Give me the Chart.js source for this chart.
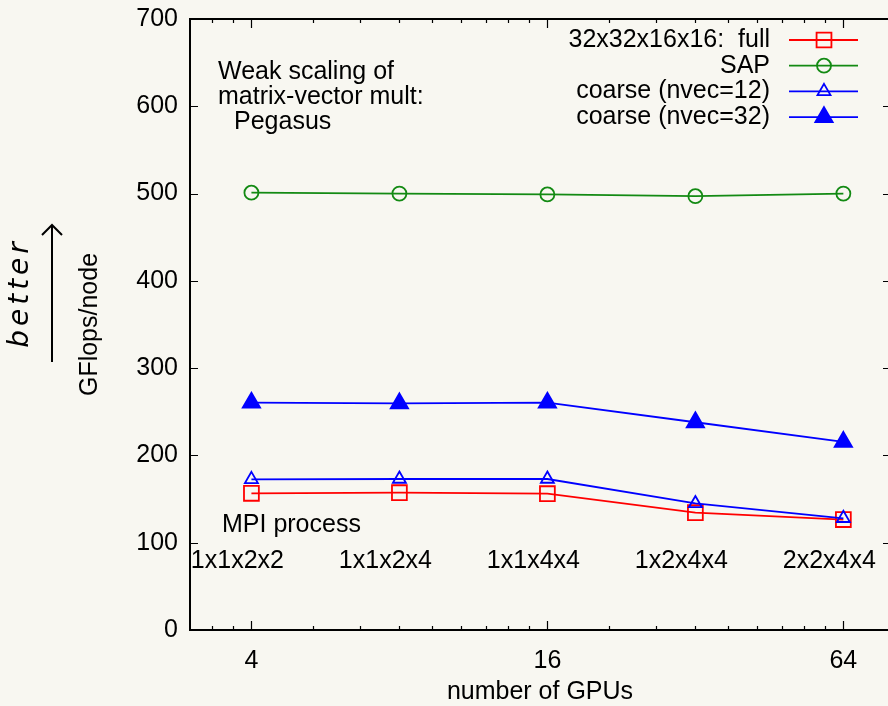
<!DOCTYPE html>
<html>
<head>
<meta charset="utf-8">
<title>Weak scaling of matrix-vector mult: Pegasus</title>
<script src="https://cdn.jsdelivr.net/npm/chart.js@4/dist/chart.umd.min.js"></script>
<style>
  html, body { margin: 0; padding: 0; background: #f8f7f1; overflow: hidden; }
  #wrap { position: relative; width: 906px; height: 706px; }
</style>
</head>
<body>
<div id="wrap"><canvas id="c" width="906" height="706"></canvas></div>
<script>
// Number of GPUs per run and the MPI process grid used for each
const gpus = [4, 8, 16, 32, 64];
const processGrids = ['1x1x2x2', '1x1x2x4', '1x1x4x4', '1x2x4x4', '2x2x4x4'];

// GFlops per node for each operator
const fullGflops     = [156.6, 157.3, 156.2, 134.4, 126.5];
const sapGflops      = [501, 500, 499, 497, 500];
const coarse12Gflops = [172.6, 173, 173, 145, 128];
const coarse32Gflops = [260.4, 259.6, 260.4, 238, 215.5];

// Axis ticks
const xMajorTicks = [4, 16, 64];
const xMinorTicks = [10/3, 11/3, 16/3, 20/3, 8, 28/3, 32/3, 12, 40/3, 44/3,
                     64/3, 80/3, 32, 112/3, 128/3, 48, 160/3, 176/3];
const yTicks = [0, 100, 200, 300, 400, 500, 600, 700];

// Plot frame edges (the right edge runs just past the visible page)
const FRAME = { left: 190, top: 19, right: 891, bottom: 630 };

const FONT = "'Liberation Sans', Arial, Helvetica, sans-serif";
const RED = '#ff0000', GREEN = '#138a13', BLUE = '#0000ff';

const series = [
  { label: '32x32x16x16:  full', data: fullGflops, color: RED, style: 'rect', radius: 10.5, fill: false },
  { label: 'SAP', data: sapGflops, color: GREEN, style: 'circle', radius: 7, fill: false },
  { label: 'coarse (nvec=12)', data: coarse12Gflops, color: BLUE, style: 'triangle', radius: 7.5, fill: false },
  { label: 'coarse (nvec=32)', data: coarse32Gflops, color: BLUE, style: 'triangle', radius: 10, fill: true }
];

function marker(ctx, style, x, y, r, color, fill) {
  ctx.save();
  ctx.strokeStyle = color;
  ctx.fillStyle = color;
  ctx.lineWidth = 1.8;
  ctx.beginPath();
  if (style === 'rect') {
    const s = Math.SQRT1_2 * r;
    ctx.rect(x - s, y - s, 2 * s, 2 * s);
  } else if (style === 'circle') {
    ctx.arc(x, y, r, 0, Math.PI * 2);
  } else {
    const w = r * Math.sin(Math.PI * 2 / 3);
    ctx.moveTo(x, y - r);
    ctx.lineTo(x + w, y + r / 2);
    ctx.lineTo(x - w, y + r / 2);
    ctx.closePath();
  }
  if (fill) ctx.fill();
  ctx.stroke();
  ctx.restore();
}

const decorations = {
  id: 'decorations',
  beforeDraw(chart) {
    const ctx = chart.ctx;
    ctx.save();
    ctx.fillStyle = '#f8f7f1';
    ctx.fillRect(0, 0, chart.width, chart.height);
    ctx.restore();
  },
  beforeDatasetsDraw(chart) {
    const { ctx, chartArea: a, scales: { x, y } } = chart;
    ctx.save();
    ctx.strokeStyle = '#000';
    // inward ticks on all four sides
    ctx.lineWidth = 1.2;
    ctx.beginPath();
    yTicks.forEach(v => {
      const py = Math.round(y.getPixelForValue(v)) + 0.5;
      ctx.moveTo(a.left, py); ctx.lineTo(a.left + 8, py);
      ctx.moveTo(a.right, py); ctx.lineTo(a.right - 8, py);
    });
    xMajorTicks.forEach(v => {
      const px = Math.round(x.getPixelForValue(v)) + 0.5;
      ctx.moveTo(px, a.bottom); ctx.lineTo(px, a.bottom - 9);
      ctx.moveTo(px, a.top); ctx.lineTo(px, a.top + 9);
    });
    xMinorTicks.forEach(v => {
      const px = Math.round(x.getPixelForValue(v)) + 0.5;
      ctx.moveTo(px, a.bottom); ctx.lineTo(px, a.bottom - 4);
      ctx.moveTo(px, a.top); ctx.lineTo(px, a.top + 4);
    });
    ctx.stroke();
    // frame
    ctx.lineWidth = 2;
    ctx.strokeRect(a.left, a.top, a.right - a.left, a.bottom - a.top);
    ctx.restore();
  },
  afterDraw(chart) {
    const { ctx, chartArea: a, scales: { x, y } } = chart;
    ctx.save();
    ctx.fillStyle = '#000';
    ctx.font = '25px ' + FONT;
    ctx.textBaseline = 'middle';

    // description text
    ctx.textAlign = 'left';
    ctx.fillText('Weak scaling of', a.left + 28, 72);
    ctx.fillText('matrix-vector mult:', a.left + 28, 97);
    ctx.fillText('Pegasus', a.left + 44, 122);

    // MPI process grid under each point
    ctx.fillText('MPI process', a.left + 32, 525);
    ctx.textAlign = 'center';
    processGrids.forEach((g, i) => {
      ctx.fillText(g, x.getPixelForValue(gpus[i]) - 14, 561);
    });

    // legend
    series.forEach((s, i) => {
      const ry = 40 + i * 25.7;
      ctx.textAlign = 'right';
      ctx.fillStyle = '#000';
      ctx.fillText(s.label, 770, ry);
      ctx.strokeStyle = s.color;
      ctx.lineWidth = 1.8;
      ctx.beginPath();
      ctx.moveTo(789, ry); ctx.lineTo(858, ry);
      ctx.stroke();
      marker(ctx, s.style, 824, ry, s.radius, s.color, s.fill);
    });

    // axis titles
    ctx.fillStyle = '#000';
    ctx.textAlign = 'center';
    ctx.fillText('number of GPUs', 540, 692);
    ctx.save();
    ctx.translate(90, (a.top + a.bottom) / 2);
    ctx.rotate(-Math.PI / 2);
    ctx.font = '25px ' + FONT;
    ctx.fillText('GFlops/node', 0, 0);
    ctx.restore();

    // "better" with an upward arrow
    ctx.save();
    ctx.translate(21, 293);
    ctx.rotate(-Math.PI / 2);
    ctx.font = "oblique 28px 'DejaVu Sans', sans-serif";
    if ('letterSpacing' in ctx) ctx.letterSpacing = '4px';
    ctx.fillText('better', 0, 0);
    ctx.restore();
    ctx.strokeStyle = '#000';
    ctx.lineWidth = 2;
    ctx.beginPath();
    ctx.moveTo(52, 362); ctx.lineTo(52, 225);
    ctx.moveTo(42, 235); ctx.lineTo(52, 225); ctx.lineTo(62, 235);
    ctx.stroke();
    ctx.restore();
  }
};

const chart = new Chart(document.getElementById('c'), {
  type: 'line',
  data: {
    datasets: series.map((s, i) => ({
      label: s.label,
      data: gpus.map((g, k) => ({ x: g, y: s.data[k] })),
      borderColor: s.color,
      borderWidth: 1.8,
      backgroundColor: s.fill ? s.color : 'rgba(0,0,0,0)',
      pointStyle: s.style,
      pointRadius: s.radius,
      pointBorderWidth: 1.8,
      pointBorderColor: s.color,
      pointBackgroundColor: s.fill ? s.color : 'rgba(0,0,0,0)',
      tension: 0,
      order: series.length - i
    }))
  },
  options: {
    responsive: false,
    animation: false,
    devicePixelRatio: 1,
    layout: { padding: { top: FRAME.top, right: 906 - FRAME.right, left: 0, bottom: 0 } },
    plugins: { legend: { display: false }, tooltip: { enabled: false } },
    scales: {
      x: {
        type: 'logarithmic',
        min: 3,
        max: 80,
        grid: { display: false, drawTicks: false },
        border: { display: false },
        afterBuildTicks: s => { s.ticks = xMajorTicks.map(v => ({ value: v })); },
        afterFit: s => { s.height = 706 - FRAME.bottom; s.paddingLeft = 0; s.paddingRight = 0; },
        ticks: {
          callback: v => String(v),
          color: '#000',
          font: { family: FONT, size: 25 },
          padding: 16,
          maxRotation: 0,
          autoSkip: false
        }
      },
      y: {
        type: 'linear',
        min: 0,
        max: 700,
        grid: { display: false, drawTicks: false },
        border: { display: false },
        afterBuildTicks: s => { s.ticks = yTicks.map(v => ({ value: v })); },
        afterFit: s => { s.width = FRAME.left; s.paddingTop = 0; s.paddingBottom = 0; },
        ticks: {
          color: '#000',
          font: { family: FONT, size: 25 },
          padding: 12
        }
      }
    }
  },
  plugins: [decorations]
});

// settle the right edge of the plot frame
const pad = chart.options.layout.padding;
pad.right += chart.chartArea.right - FRAME.right;
chart.update();
</script>
</body>
</html>
